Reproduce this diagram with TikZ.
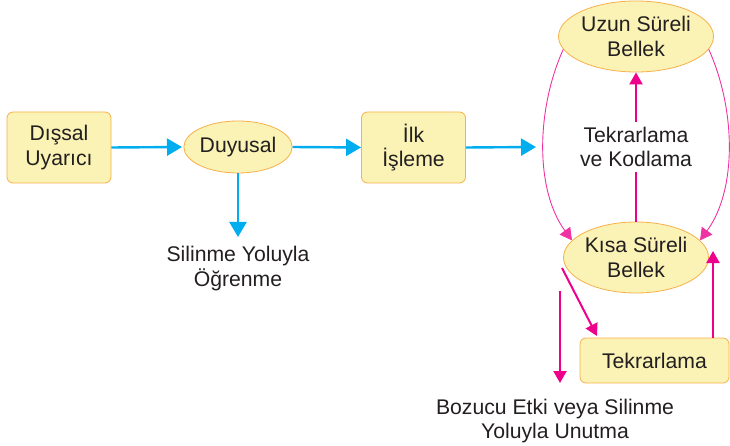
\documentclass[tikz,border=0pt]{standalone}
\usepackage{fontspec}
\setmainfont{Liberation Sans}
\usetikzlibrary{shapes.geometric,arrows.meta,calc}
\definecolor{cy}{HTML}{00AEEF}
\definecolor{mg}{HTML}{EC008C}
\definecolor{bfill}{HTML}{FAF3B5}
\definecolor{bdraw}{HTML}{F7B04A}
\definecolor{txt}{HTML}{231F20}
\begin{document}
\begin{tikzpicture}[x=1pt,y=-1pt,
 lbl/.style={font=\fontsize{21.2}{24.8}\selectfont, text=txt, align=center, inner sep=0pt},
 box/.style={lbl, draw=bdraw, fill=bfill, rounded corners=6pt, line width=0.8pt},
 ell/.style={lbl, ellipse, draw=bdraw, fill=bfill, line width=0.8pt},
 cyarr/.style={draw=cy, line width=2.4pt, -{Triangle[length=15pt,width=17pt]}},
 mgarr/.style={draw=mg, line width=2pt, -{Triangle[length=12pt,width=13pt]}},
 mgthin/.style={draw=mg!80, line width=0.9pt, -{Triangle[length=12pt,width=13pt]}}]
\useasboundingbox (0,0) rectangle (730,446);
% nodes
\node[box, minimum width=104pt, minimum height=71pt] (dis) at (59,147.5) {Dışsal\\Uyarıcı};
\node[ell, minimum width=102pt, minimum height=52pt] (duy) at (238,147) {Duyusal};
\node[box, minimum width=104pt, minimum height=71pt] (ilk) at (413.5,147.5) {İlk\\İşleme};
\node[lbl] (sil) at (238,268.5) {Silinme Yoluyla\\Öğrenme};
\node[ell, minimum width=138pt, minimum height=71pt] (uzun) at (636,36.5) {Uzun Süreli\\Bellek};
\node[ell, minimum width=137pt, minimum height=71pt] (kisa) at (636,257.5) {Kısa Süreli\\Bellek};
\node[box, minimum width=149pt, minimum height=45pt] (tekrar) at (654.5,360.5) {Tekrarlama};
\node[lbl] (boz) at (555,421) {Bozucu Etki veya Silinme\\Yoluyla Unutma};
% free ends
\coordinate (c1) at (182,147);
\coordinate (c3) at (536,147);
\coordinate (c4) at (238,237);
\coordinate (d1) at (562,268);
\coordinate (d2) at (597,336);
\coordinate (v1) at (560,291);
\coordinate (v2) at (560,383);
\coordinate (u2) at (713,251);
% cyan arrows
\draw[cyarr] (dis.east) -- (c1);
\draw[cyarr] (duy.east) -- (ilk.west);
\draw[cyarr] (ilk.east) -- (c3);
\draw[cyarr] (duy.south) -- (c4);
% magenta arrows
\draw[mgarr] (kisa.north) -- (uzun.south);
\node[lbl, fill=white, inner xsep=3pt, inner ysep=5pt] (tk) at (636,147) {Tekrarlama\\ve Kodlama};
\draw[mgthin] (uzun.190) .. controls (536,110) and (535,190) .. (kisa.165);
\draw[mgthin] (uzun.-10) .. controls (736,110) and (737,190) .. (kisa.15);
\draw[mgarr] (d1) -- (d2);
\draw[mgarr] (v1) -- (v2);
\draw[mgarr] (tekrar.north -| u2) -- (u2);
\end{tikzpicture}
\end{document}
